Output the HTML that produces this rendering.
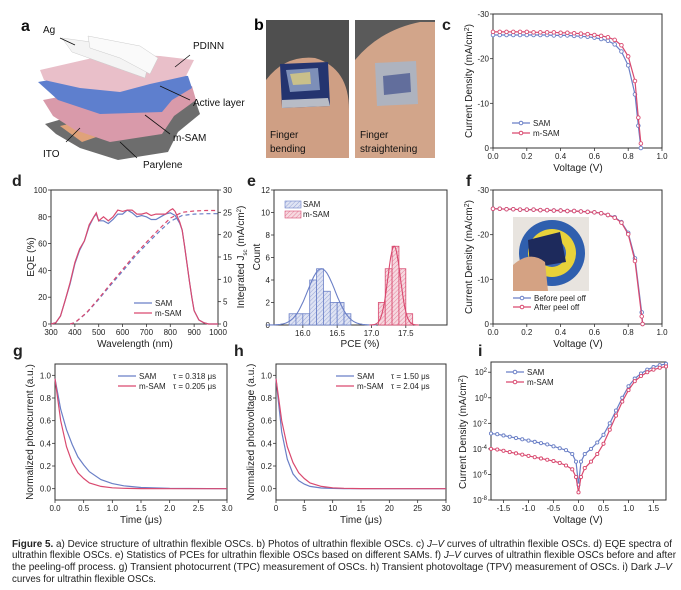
<!DOCTYPE html>
<html><head><meta charset="utf-8"><style>
html,body{margin:0;padding:0;background:#fff;}
svg{display:block;font-family:"Liberation Sans",sans-serif;}
</style></head><body>
<svg id="fig" width="681" height="590" viewBox="0 0 681 590" xmlns="http://www.w3.org/2000/svg">
<g>
<polygon points="45,124 100,108 150,104 195,100 200,114 178,132 168,152 118,160 80,148 56,134" fill="#6d6d6d"/>
<polygon points="60,126 95,118 105,134 82,142" fill="#e0a27a"/>
<polygon points="43,100 95,90 150,86 192,86 196,100 174,116 162,134 110,142 75,130 53,116" fill="#d99aaa"/>
<polygon points="38,82 95,72 150,72 188,76 192,88 172,100 162,112 100,114 58,100" fill="#5e7fce"/>
<polygon points="40,70 110,54 160,56 194,60 186,76 150,84 120,92 80,88 44,80" fill="#e9bfc9"/>
<polygon points="62,38 120,46 150,58 145,78 100,62 72,52" fill="#f4f4f4" stroke="#ccc" stroke-width="0.5"/>
<polygon points="88,36 140,46 158,58 150,74 120,58 90,48" fill="#fafafa" stroke="#ccc" stroke-width="0.5"/>
<g stroke="#111" stroke-width="0.8" fill="none">
<line x1="75" y1="45" x2="60" y2="38"/><line x1="175" y1="67" x2="190" y2="55"/><line x1="160" y1="86" x2="190" y2="100"/>
<line x1="145" y1="115" x2="170" y2="134"/><line x1="80" y1="128" x2="66" y2="142"/><line x1="120" y1="142" x2="137" y2="158"/>
</g>
<g font-size="10" fill="#111">
<text x="21" y="31" font-size="16" font-weight="bold">a</text>
<text x="43" y="33">Ag</text>
<text x="193" y="49">PDINN</text>
<text x="193" y="106">Active layer</text>
<text x="173" y="141">m-SAM</text>
<text x="43" y="157">ITO</text>
<text x="143" y="168">Parylene</text>
</g>
</g>
<g>
<text x="254" y="30" font-size="16" font-weight="bold">b</text>
<rect x="266" y="20" width="83" height="138" fill="#4f4f4f"/>
<path d="M266,158 L266,80 Q285,55 315,58 Q349,68 349,110 L349,158 Z" fill="#cf9f84"/>
<polygon points="280,64 328,62 330,106 282,108" fill="#24346f"/>
<polygon points="286,70 318,68 320,90 290,92" fill="#7d8fb8"/>
<polygon points="290,74 310,72 311,84 293,85" fill="#c9c08a"/>
<polygon points="282,100 328,98 330,106 282,108" fill="#b8bcc6"/>
<rect x="355" y="20" width="80" height="138" fill="#5a5a5a"/>
<path d="M355,158 L355,60 Q380,30 420,22 L435,22 L435,158 Z" fill="#d2a58a"/>
<polygon points="375,63 416,61 418,104 377,106" fill="#aeb3bf"/>
<polygon points="383,76 410,73 411,92 384,95" fill="#2f3f86" opacity="0.6"/>
<g font-size="10" fill="#111">
<text x="270" y="138">Finger</text>
<text x="270" y="152">bending</text>
<text x="360" y="138">Finger</text>
<text x="360" y="152">straightening</text>
</g>
</g>
<g id="finset">
<rect x="513" y="217" width="76" height="74" fill="#e8e4df"/>
<circle cx="552" cy="253" r="33" fill="#2f5fae"/>
<circle cx="552" cy="253" r="24" fill="#e8d23a"/>
<circle cx="552" cy="253" r="14" fill="#3a66b4"/>
<polygon points="528,240 560,232 566,262 530,268" fill="#1d2a5c"/>
<path d="M513,291 L513,265 Q530,250 545,262 L548,291 Z" fill="#d4a283"/>
</g>
<g id="charts"></g>
<g font-size="10" fill="#222">
<text x="12" y="547" textLength="660" lengthAdjust="spacingAndGlyphs"><tspan font-weight="bold">Figure 5.</tspan>  a) Device structure of ultrathin flexible OSCs. b) Photos of ultrathin flexible OSCs. c) <tspan font-style="italic">J–V</tspan> curves of ultrathin flexible OSCs. d) EQE spectra of</text>
<text x="12" y="558" textLength="664" lengthAdjust="spacingAndGlyphs">ultrathin flexible OSCs. e) Statistics of PCEs for ultrathin flexible OSCs based on different SAMs. f) <tspan font-style="italic">J–V</tspan> curves of ultrathin flexible OSCs before and after</text>
<text x="12" y="570" textLength="660" lengthAdjust="spacingAndGlyphs">the peeling-off process. g) Transient photocurrent (TPC) measurement of OSCs. h) Transient photovoltage (TPV) measurement of OSCs. i) Dark <tspan font-style="italic">J–V</tspan></text>
<text x="12" y="582" textLength="144" lengthAdjust="spacingAndGlyphs">curves for ultrathin flexible OSCs.</text>
</g>
</svg>
<script>
const cV = [0,0.04,0.08,0.12,0.16,0.2,0.24,0.28,0.32,0.36,0.4,0.44,0.48,0.52,0.56,0.6,0.64,0.68,0.72,0.76,0.8,0.84,0.86,0.875];
const cSAM = [25.3,25.3,25.3,25.3,25.3,25.3,25.3,25.3,25.3,25.2,25.2,25.2,25.1,25.0,24.9,24.7,24.4,24.0,23.2,21.6,18.5,12.0,5.0,0];
const cMSAM = [26.0,26.0,26.0,26.0,26.0,26.0,25.9,25.9,25.9,25.9,25.8,25.8,25.7,25.6,25.5,25.3,25.1,24.8,24.2,23.0,20.5,15.0,6.8,1.0];
const fV = [0,0.04,0.08,0.12,0.16,0.2,0.24,0.28,0.32,0.36,0.4,0.44,0.48,0.52,0.56,0.6,0.64,0.68,0.72,0.76,0.8,0.84,0.88,0.885];
const fBefore = [25.8,25.8,25.7,25.7,25.6,25.6,25.6,25.5,25.5,25.4,25.4,25.3,25.3,25.2,25.1,25.0,24.8,24.4,23.9,22.8,20.4,14.7,2.6,0];
const fAfter = [25.8,25.8,25.7,25.7,25.6,25.6,25.6,25.5,25.5,25.4,25.4,25.3,25.3,25.2,25.1,25.0,24.8,24.4,23.8,22.7,20.1,14.1,1.7,0];
const dWl = [300,320,340,360,380,400,420,440,460,480,490,500,520,540,560,580,600,620,640,660,680,700,720,740,760,780,800,810,820,840,850,860,870,880,890,900,920,940,960,1000];
const dEqeSAM = [0,1,6,18,30,45,55,62,73,80,82,77,77,75,78,82,82,85,83,80,81,80,78,78,80,82,83,82,81,75,70,58,45,32,20,10,3,1,0,0];
const dEqeMSAM = [0,1,6,18,31,46,56,62,74,80,83,77,80,77,80,85,84,85,85,82,82,83,81,82,82,82,85,86,84,76,70,58,45,32,20,10,3,1,0,0];
const dJscWl = [380,400,450,500,550,600,650,700,750,800,850,900,950,1000];
const dJscSAM = [0,0.3,2.5,5.5,8.7,11.8,15.0,17.8,20.5,23.0,24.3,24.6,24.7,24.7];
const dJscMSAM = [0,0.3,2.6,5.7,9.0,12.2,15.4,18.3,21.1,23.7,25.0,25.3,25.4,25.4];
const eBinStart = [15.8,15.9,16.0,16.1,16.2,16.3,16.4,16.5,16.6];
const eSAMCount = [1,1,1,4,5,3,2,2,1];
const eMBinStart = [17.1,17.2,17.3,17.4,17.5];
const eMSAMCount = [2,5,7,5,1];
const eFitSAM = [16.27,0.2,5];
const eFitMSAM = [17.33,0.09,7];
const gT = [0,0.1,0.2,0.3,0.4,0.5,0.6,0.8,1.0,1.2,1.5,2,3];
const gSAM = [0.97,0.70,0.52,0.39,0.28,0.21,0.15,0.08,0.045,0.025,0.01,0.002,0];
const gMSAM = [0.97,0.60,0.37,0.23,0.14,0.09,0.05,0.02,0.008,0.003,0.001,0,0];
const hT = [0,1,2,3,4,5,6,8,10,12,15,20,30];
const hSAM = [0.97,0.50,0.26,0.13,0.07,0.04,0.02,0.006,0.002,0.001,0,0,0];
const hMSAM = [0.97,0.60,0.37,0.23,0.14,0.09,0.05,0.02,0.008,0.003,0.001,0,0];
const iV = [-1.75,-1.625,-1.5,-1.375,-1.25,-1.125,-1.0,-0.875,-0.75,-0.625,-0.5,-0.375,-0.25,-0.125,-0.05,0,0.05,0.125,0.25,0.375,0.5,0.625,0.75,0.875,1.0,1.125,1.25,1.375,1.5,1.625,1.75];
const iLogSAM = [-2.8,-2.85,-2.95,-3.05,-3.15,-3.25,-3.35,-3.45,-3.55,-3.65,-3.8,-3.95,-4.1,-4.4,-5,-6.8,-5,-4.4,-4.0,-3.5,-2.9,-2.0,-1.0,0.0,0.9,1.5,1.9,2.2,2.4,2.55,2.65];
const iLogMSAM = [-4.0,-4.05,-4.15,-4.25,-4.35,-4.45,-4.55,-4.65,-4.75,-4.85,-4.95,-5.1,-5.3,-5.6,-6.2,-7.4,-6.2,-5.5,-5.0,-4.4,-3.6,-2.5,-1.4,-0.3,0.6,1.3,1.7,2.0,2.2,2.35,2.45];

const BLUE = '#6a7fc6', PINK = '#d9496f';
const NS = 'http://www.w3.org/2000/svg';
const root = document.getElementById('charts');
function mk(tag, attrs, name, parent) {
  const el = document.createElementNS(NS, tag);
  for (const k in attrs) el.setAttribute(k, attrs[k]);
  
  
  (parent || root).appendChild(el);
  return el;
}
function txt(x, y, s, name, opt) {
  opt = opt || {};
  const t = mk('text', {x: x, y: y, 'font-size': opt.fs || 8, fill: '#222', 'text-anchor': opt.anchor || 'middle'}, name);
  if (opt.rot) t.setAttribute('transform', 'rotate(-90 ' + x + ' ' + y + ')');
  if (opt.html) t.innerHTML = s; else t.textContent = s;
  return t;
}
function lin(d0, d1, r0, r1) { return v => r0 + (v - d0) * (r1 - r0) / (d1 - d0); }
function frame(x0, y0, x1, y1, name) {
  mk('rect', {x: x0, y: y0, width: x1 - x0, height: y1 - y0, fill: 'none', stroke: '#333', 'stroke-width': 1}, name);
}
function xTicks(sx, vals, labels, y1, name) {
  vals.forEach((v, i) => {
    mk('line', {x1: sx(v), x2: sx(v), y1: y1, y2: y1 + 3, stroke: '#333', 'stroke-width': 0.8}, name + '-tick');
    txt(sx(v), y1 + 11, labels[i], name + '-label');
  });
}
function yTicks(sy, vals, labels, x0, name, right) {
  vals.forEach((v, i) => {
    mk('line', {x1: x0, x2: right ? x0 + 3 : x0 - 3, y1: sy(v), y2: sy(v), stroke: '#333', 'stroke-width': 0.8}, name + '-tick');
    txt(right ? x0 + 5 : x0 - 4, sy(v) + 3, labels[i], name + '-label', {anchor: right ? 'start' : 'end'});
  });
}
function path(xs, ys, sx, sy, color, name, dash) {
  const d = xs.map((x, i) => (i ? 'L' : 'M') + sx(x).toFixed(1) + ',' + sy(ys[i]).toFixed(1)).join('');
  const p = mk('path', {d: d, fill: 'none', stroke: color, 'stroke-width': 1.2}, name);
  if (dash) p.setAttribute('stroke-dasharray', dash);
  return p;
}
function markers(xs, ys, sx, sy, color, name, r) {
  xs.forEach((x, i) => mk('circle', {cx: sx(x), cy: sy(ys[i]), r: r || 1.8, fill: '#fff', stroke: color, 'stroke-width': 0.9}, name));
}
function legendLine(x, y, color, label, name, marker) {
  mk('line', {x1: x, x2: x + 18, y1: y, y2: y, stroke: color, 'stroke-width': 1.2}, name + '-swatch');
  if (marker) mk('circle', {cx: x + 9, cy: y, r: 1.8, fill: '#fff', stroke: color}, name + '-marker');
  txt(x + 21, y + 3, label, name + '-text', {anchor: 'start'});
}
function label(x, y, s, name) { txt(x, y, s, name, {fs: 16, anchor: 'start'}).setAttribute('font-weight', 'bold'); }

(function () {
  const sx = lin(0, 1, 493, 662), sy = lin(0, 30, 148, 14);
  label(442, 30, 'c', 'panel-label-c');
  frame(493, 14, 662, 148, 'c-plot-frame');
  xTicks(sx, [0, 0.2, 0.4, 0.6, 0.8, 1.0], ['0.0', '0.2', '0.4', '0.6', '0.8', '1.0'], 148, 'c-x-axis');
  yTicks(sy, [0, 10, 20, 30], ['0', '-10', '-20', '-30'], 493, 'c-y-axis');
  txt(578, 171, 'Voltage (V)', 'c-x-axis-title', {fs: 10});
  txt(472, 81, 'Current Density (mA/cm<tspan baseline-shift="super" font-size="7">2</tspan>)', 'c-y-axis-title', {fs: 10, rot: true, html: true});
  path(cV, cSAM, sx, sy, BLUE, 'c-sam-line'); markers(cV, cSAM, sx, sy, BLUE, 'c-sam-marker');
  path(cV, cMSAM, sx, sy, PINK, 'c-msam-line'); markers(cV, cMSAM, sx, sy, PINK, 'c-msam-marker');
  legendLine(512, 123, BLUE, 'SAM', 'c-legend-sam', true);
  legendLine(512, 133, PINK, 'm-SAM', 'c-legend-msam', true);
})();
(function () {
  const sx = lin(300, 1000, 51, 218), sy = lin(0, 100, 324, 190), sy2 = lin(0, 30, 324, 190);
  label(12, 186, 'd', 'panel-label-d');
  frame(51, 190, 218, 324, 'd-plot-frame');
  xTicks(sx, [300, 400, 500, 600, 700, 800, 900, 1000], ['300', '400', '500', '600', '700', '800', '900', '1000'], 324, 'd-x-axis');
  yTicks(sy, [0, 20, 40, 60, 80, 100], ['0', '20', '40', '60', '80', '100'], 51, 'd-y-axis');
  yTicks(sy2, [0, 5, 10, 15, 20, 25, 30], ['0', '5', '10', '15', '20', '25', '30'], 218, 'd-y2-axis', true);
  txt(135, 347, 'Wavelength (nm)', 'd-x-axis-title', {fs: 10});
  txt(34, 257, 'EQE (%)', 'd-y-axis-title', {fs: 10, rot: true});
  txt(244, 257, 'Integrated J<tspan baseline-shift="sub" font-size="6">sc</tspan> (mA/cm<tspan baseline-shift="super" font-size="6">2</tspan>)', 'd-y2-axis-title', {fs: 10, rot: true, html: true});
  path(dWl, dEqeSAM, sx, sy, BLUE, 'd-eqe-sam-line');
  path(dWl, dEqeMSAM, sx, sy, PINK, 'd-eqe-msam-line');
  path(dJscWl, dJscSAM, sx, sy2, BLUE, 'd-jsc-sam-line', '4,3');
  path(dJscWl, dJscMSAM, sx, sy2, PINK, 'd-jsc-msam-line', '4,3');
  legendLine(134, 303, BLUE, 'SAM', 'd-legend-sam');
  legendLine(134, 313, PINK, 'm-SAM', 'd-legend-msam');
})();
(function () {
  const sx = lin(15.58, 18.1, 274, 447), sy = lin(0, 12, 325, 190);
  label(247, 186, 'e', 'panel-label-e');
  const defs = mk('defs', {}, 'e-hatch-defs');
  [['hb', BLUE, '#dfe3f3'], ['hp', PINK, '#f6d9e0']].forEach(h => {
    const pt = mk('pattern', {id: h[0], width: 3, height: 3, patternUnits: 'userSpaceOnUse', patternTransform: 'rotate(45)'}, 'hatch-pattern', defs);
    mk('rect', {width: 3, height: 3, fill: h[2]}, 'hatch-bg', pt);
    mk('line', {x1: 0, y1: 0, x2: 0, y2: 3, stroke: h[1], 'stroke-width': 0.6}, 'hatch-line', pt);
  });
  frame(274, 190, 447, 325, 'e-plot-frame');
  xTicks(sx, [16.0, 16.5, 17.0, 17.5], ['16.0', '16.5', '17.0', '17.5'], 325, 'e-x-axis');
  yTicks(sy, [0, 2, 4, 6, 8, 10, 12], ['0', '2', '4', '6', '8', '10', '12'], 274, 'e-y-axis');
  txt(360, 347, 'PCE (%)', 'e-x-axis-title', {fs: 10});
  txt(260, 257, 'Count', 'e-y-axis-title', {fs: 10, rot: true});
  eBinStart.forEach((b, i) => mk('rect', {x: sx(b), y: sy(eSAMCount[i]), width: sx(b + 0.1) - sx(b), height: sy(0) - sy(eSAMCount[i]), fill: 'url(#hb)', stroke: BLUE, 'stroke-width': 0.8}, 'e-sam-bar'));
  eMBinStart.forEach((b, i) => mk('rect', {x: sx(b), y: sy(eMSAMCount[i]), width: sx(b + 0.1) - sx(b), height: sy(0) - sy(eMSAMCount[i]), fill: 'url(#hp)', stroke: PINK, 'stroke-width': 0.8}, 'e-msam-bar'));
  [[eFitSAM, BLUE, 'e-sam-fit'], [eFitMSAM, PINK, 'e-msam-fit']].forEach(f => {
    const p = f[0]; let d = '';
    for (let k = 0; k <= 120; k++) { const x = p[0] - 4 * p[1] + k * 8 * p[1] / 120; const y = p[2] * Math.exp(-0.5 * Math.pow((x - p[0]) / p[1], 2)); d += (k ? 'L' : 'M') + sx(x).toFixed(1) + ',' + sy(y).toFixed(1); }
    mk('path', {d: d, fill: 'none', stroke: f[1], 'stroke-width': 1.1}, f[2]);
  });
  mk('rect', {x: 285, y: 201, width: 16, height: 7, fill: 'url(#hb)', stroke: BLUE, 'stroke-width': 0.6}, 'e-legend-sam-swatch');
  txt(303, 207, 'SAM', 'e-legend-sam-text', {anchor: 'start'});
  mk('rect', {x: 285, y: 211, width: 16, height: 7, fill: 'url(#hp)', stroke: PINK, 'stroke-width': 0.6}, 'e-legend-msam-swatch');
  txt(303, 217, 'm-SAM', 'e-legend-msam-text', {anchor: 'start'});
})();
(function () {
  const sx = lin(0, 1, 493, 662), sy = lin(0, 30, 324, 190);
  label(466, 186, 'f', 'panel-label-f');
  frame(493, 190, 662, 324, 'f-plot-frame');
  xTicks(sx, [0, 0.2, 0.4, 0.6, 0.8, 1.0], ['0.0', '0.2', '0.4', '0.6', '0.8', '1.0'], 324, 'f-x-axis');
  yTicks(sy, [0, 10, 20, 30], ['0', '-10', '-20', '-30'], 493, 'f-y-axis');
  txt(578, 347, 'Voltage (V)', 'f-x-axis-title', {fs: 10});
  txt(472, 257, 'Current Density (mA/cm<tspan baseline-shift="super" font-size="7">2</tspan>)', 'f-y-axis-title', {fs: 10, rot: true, html: true});
  path(fV, fBefore, sx, sy, BLUE, 'f-before-line'); markers(fV, fBefore, sx, sy, BLUE, 'f-before-marker');
  path(fV, fAfter, sx, sy, PINK, 'f-after-line'); markers(fV, fAfter, sx, sy, PINK, 'f-after-marker');
  legendLine(513, 298, BLUE, 'Before peel off', 'f-legend-before', true);
  legendLine(513, 307, PINK, 'After peel off', 'f-legend-after', true);
})();
function decay(x0, x1, dom, ts, a, b, vals, tau, p, labelX) {
  const sx = lin(0, dom, x0, x1), sy = lin(-0.1, 1.1, 500, 364);
  label(x0 - 42, 356, p, 'panel-label-' + p);
  frame(x0, 364, x1, 500, p + '-plot-frame');
  xTicks(sx, vals, vals.map(v => dom === 3 ? v.toFixed(1) : String(v)), 500, p + '-x-axis');
  yTicks(sy, [0, 0.2, 0.4, 0.6, 0.8, 1.0], ['0.0', '0.2', '0.4', '0.6', '0.8', '1.0'], x0, p + '-y-axis');
  txt((x0 + x1) / 2, 523, 'Time (μs)', p + '-x-axis-title', {fs: 10});
  txt(x0 - 22, 432, p === 'g' ? 'Normalized photocurrent (a.u.)' : 'Normalized photovoltage (a.u.)', p + '-y-axis-title', {fs: 10, rot: true});
  path(ts, a, sx, sy, BLUE, p + '-sam-line');
  path(ts, b, sx, sy, PINK, p + '-msam-line');
  legendLine(labelX, 376, BLUE, 'SAM', p + '-legend-sam');
  legendLine(labelX, 386, PINK, 'm-SAM', p + '-legend-msam');
  txt(labelX + 55, 379, tau[0], p + '-tau-sam', {anchor: 'start'});
  txt(labelX + 55, 389, tau[1], p + '-tau-msam', {anchor: 'start'});
}
decay(55, 227, 3, gT, gSAM, gMSAM, [0, 0.5, 1, 1.5, 2, 2.5, 3], ['τ = 0.318 μs', 'τ = 0.205 μs'], 'g', 118);
decay(276, 446, 30, hT, hSAM, hMSAM, [0, 5, 10, 15, 20, 25, 30], ['τ = 1.50 μs', 'τ = 2.04 μs'], 'h', 336);
(function () {
  const sx = lin(-1.75, 1.75, 491, 666), sy = lin(-8, 2.8, 500, 362);
  label(478, 356, 'i', 'panel-label-i');
  frame(491, 362, 666, 500, 'i-plot-frame');
  xTicks(sx, [-1.5, -1, -0.5, 0, 0.5, 1, 1.5], ['-1.5', '-1.0', '-0.5', '0.0', '0.5', '1.0', '1.5'], 500, 'i-x-axis');
  [-8, -6, -4, -2, 0, 2].forEach(e => {
    mk('line', {x1: 491, x2: 488, y1: sy(e), y2: sy(e), stroke: '#333', 'stroke-width': 0.8}, 'i-y-axis-tick');
    txt(487, sy(e) + 3, '10<tspan baseline-shift="super" font-size="6">' + e + '</tspan>', 'i-y-axis-label', {anchor: 'end', html: true});
  });
  txt(578, 523, 'Voltage (V)', 'i-x-axis-title', {fs: 10});
  txt(466, 432, 'Current Density (mA/cm<tspan baseline-shift="super" font-size="7">2</tspan>)', 'i-y-axis-title', {fs: 10, rot: true, html: true});
  path(iV, iLogSAM, sx, sy, BLUE, 'i-sam-line'); markers(iV, iLogSAM, sx, sy, BLUE, 'i-sam-marker', 1.6);
  path(iV, iLogMSAM, sx, sy, PINK, 'i-msam-line'); markers(iV, iLogMSAM, sx, sy, PINK, 'i-msam-marker', 1.6);
  legendLine(506, 372, BLUE, 'SAM', 'i-legend-sam', true);
  legendLine(506, 382, PINK, 'm-SAM', 'i-legend-msam', true);
})();
</script>
</body></html>
